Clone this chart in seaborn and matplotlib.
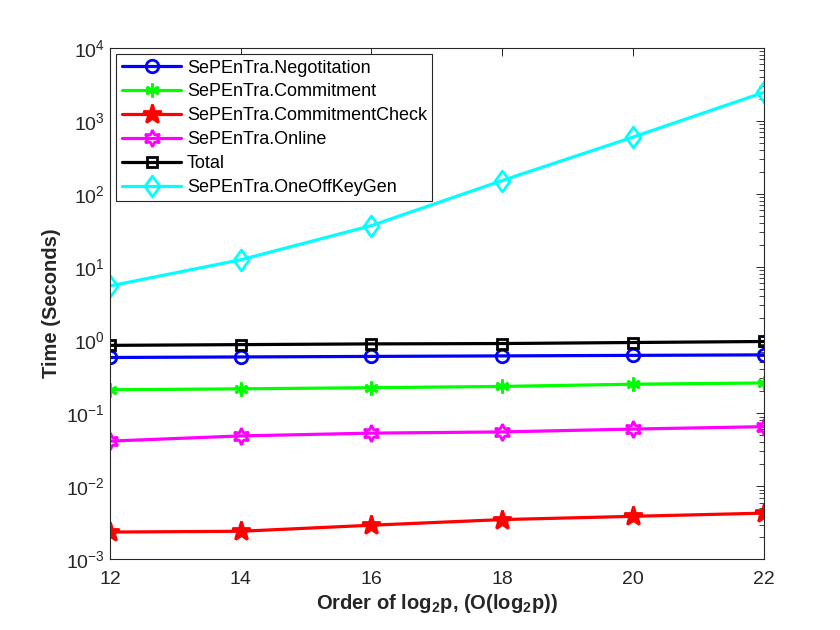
import numpy as np
import pandas as pd
import matplotlib
matplotlib.use("Agg")
import matplotlib.pyplot as plt
from matplotlib.ticker import LogLocator, FixedLocator, FuncFormatter, NullFormatter
from matplotlib.path import Path
import seaborn as sns

# ---- data ----
x_order = [12, 14, 16, 18, 20, 22]
negotiation = [0.58, 0.59, 0.60, 0.61, 0.62, 0.63]
commitment = [0.21, 0.216, 0.224, 0.233, 0.25, 0.26]
commitment_check = [0.00237, 0.00243, 0.00294, 0.00351, 0.00389, 0.0043]
online = [0.0416, 0.049, 0.0535, 0.0556, 0.0608, 0.0656]
total = [0.85, 0.87, 0.89, 0.90, 0.93, 0.96]
oneoff_keygen = [5.53, 12.6, 37.0, 153.0, 601.0, 2455.0]

labels = ["SePEnTra.Negotitation", "SePEnTra.Commitment", "SePEnTra.CommitmentCheck",
          "SePEnTra.Online", "Total", "SePEnTra.OneOffKeyGen"]
series = [negotiation, commitment, commitment_check, online, total, oneoff_keygen]
x_ticks = [12, 14, 16, 18, 20, 22]

sns.set_theme(style="white")
plt.rcParams['font.family'] = ['Liberation Sans', 'DejaVu Sans']
plt.rcParams['mathtext.fontset'] = 'custom'
plt.rcParams['mathtext.rm'] = 'Liberation Sans'
plt.rcParams['mathtext.it'] = 'Liberation Sans'
plt.rcParams['mathtext.bf'] = 'Liberation Sans:bold'
plt.rcParams['mathtext.default'] = 'regular'

diamond = Path([(0, 1), (0.72, 0), (0, -1), (-0.72, 0), (0, 1)],
               [Path.MOVETO, Path.LINETO, Path.LINETO, Path.LINETO, Path.CLOSEPOLY])

styles = [
    dict(color=(0, 0, 1), marker='o', ms=9, mfc='none'),
    dict(color=(0, 1, 0), marker=(6, 2, 0), ms=10, mfc=(0, 1, 0)),
    dict(color=(1, 0, 0), marker='*', ms=14, mfc=(1, 0, 0)),
    dict(color=(1, 0, 1), marker=(6, 1, 0), ms=12, mfc='none'),
    dict(color=(0, 0, 0), marker='s', ms=7, mfc='none'),
    dict(color=(0, 1, 1), marker=diamond, ms=15, mfc='none'),
]

fig = plt.figure(figsize=(8.4, 6.3), dpi=100)
fig.patch.set_facecolor('white')
ax = fig.add_axes([0.131, 0.112, 0.778, 0.812])

rows = []
for lab, vals in zip(labels, series):
    for xv, yv in zip(x_order, vals):
        rows.append(dict(x=xv, y=yv, series=lab))
df = pd.DataFrame(rows)

for lab, st in zip(labels, styles):
    sub = df[df['series'] == lab]
    sns.lineplot(data=sub, x='x', y='y', ax=ax, label=lab, color=st['color'],
                 marker=st['marker'], markersize=st['ms'], markerfacecolor=st['mfc'],
                 markeredgecolor=st['color'], markeredgewidth=2, linewidth=2.3,
                 estimator=None, sort=False)

ax.set_yscale('log')
ax.set_xlim(12, 22)
ax.set_ylim(1e-3, 1e4)
ax.xaxis.set_major_locator(FixedLocator(x_ticks))
ax.yaxis.set_major_locator(LogLocator(base=10, numticks=20))
ax.yaxis.set_minor_locator(LogLocator(base=10, subs=np.arange(2, 10), numticks=20))
ax.yaxis.set_minor_formatter(NullFormatter())
ax.yaxis.set_major_formatter(FuncFormatter(lambda v, p: r'$10^{%d}$' % int(round(np.log10(v)))))
ax.xaxis.get_offset_text().set_visible(False)
ax.yaxis.get_offset_text().set_visible(False)

ax.tick_params(axis='both', which='both', direction='in', top=True, right=True,
               labelsize=14, colors='#262626', labelcolor='#262626')
ax.tick_params(axis='both', which='major', length=6, width=0.7)
ax.tick_params(axis='y', which='minor', length=3.5, width=0.6)
ax.tick_params(axis='x', which='major', pad=8)
for s in ax.spines.values():
    s.set_color('#262626')
    s.set_linewidth(0.8)

ax.set_xlabel(r'Order of log$_\mathbf{2}$p, (O(log$_\mathbf{2}$p))', fontsize=14.5,
              fontweight='bold', color='#262626', labelpad=3)
ax.set_ylabel('Time (Seconds)', fontsize=14.5, fontweight='bold', color='#262626', labelpad=4)

leg = ax.legend(loc='upper left', fontsize=13, frameon=True, fancybox=False, framealpha=1,
                edgecolor='#262626', borderaxespad=0.35, handlelength=3.3, handletextpad=0.3,
                labelspacing=0.38, borderpad=0.3)
leg.get_frame().set_linewidth(0.8)
for t in leg.get_texts():
    t.set_color('black')

fig.savefig('out.png', dpi=100, facecolor='white')
